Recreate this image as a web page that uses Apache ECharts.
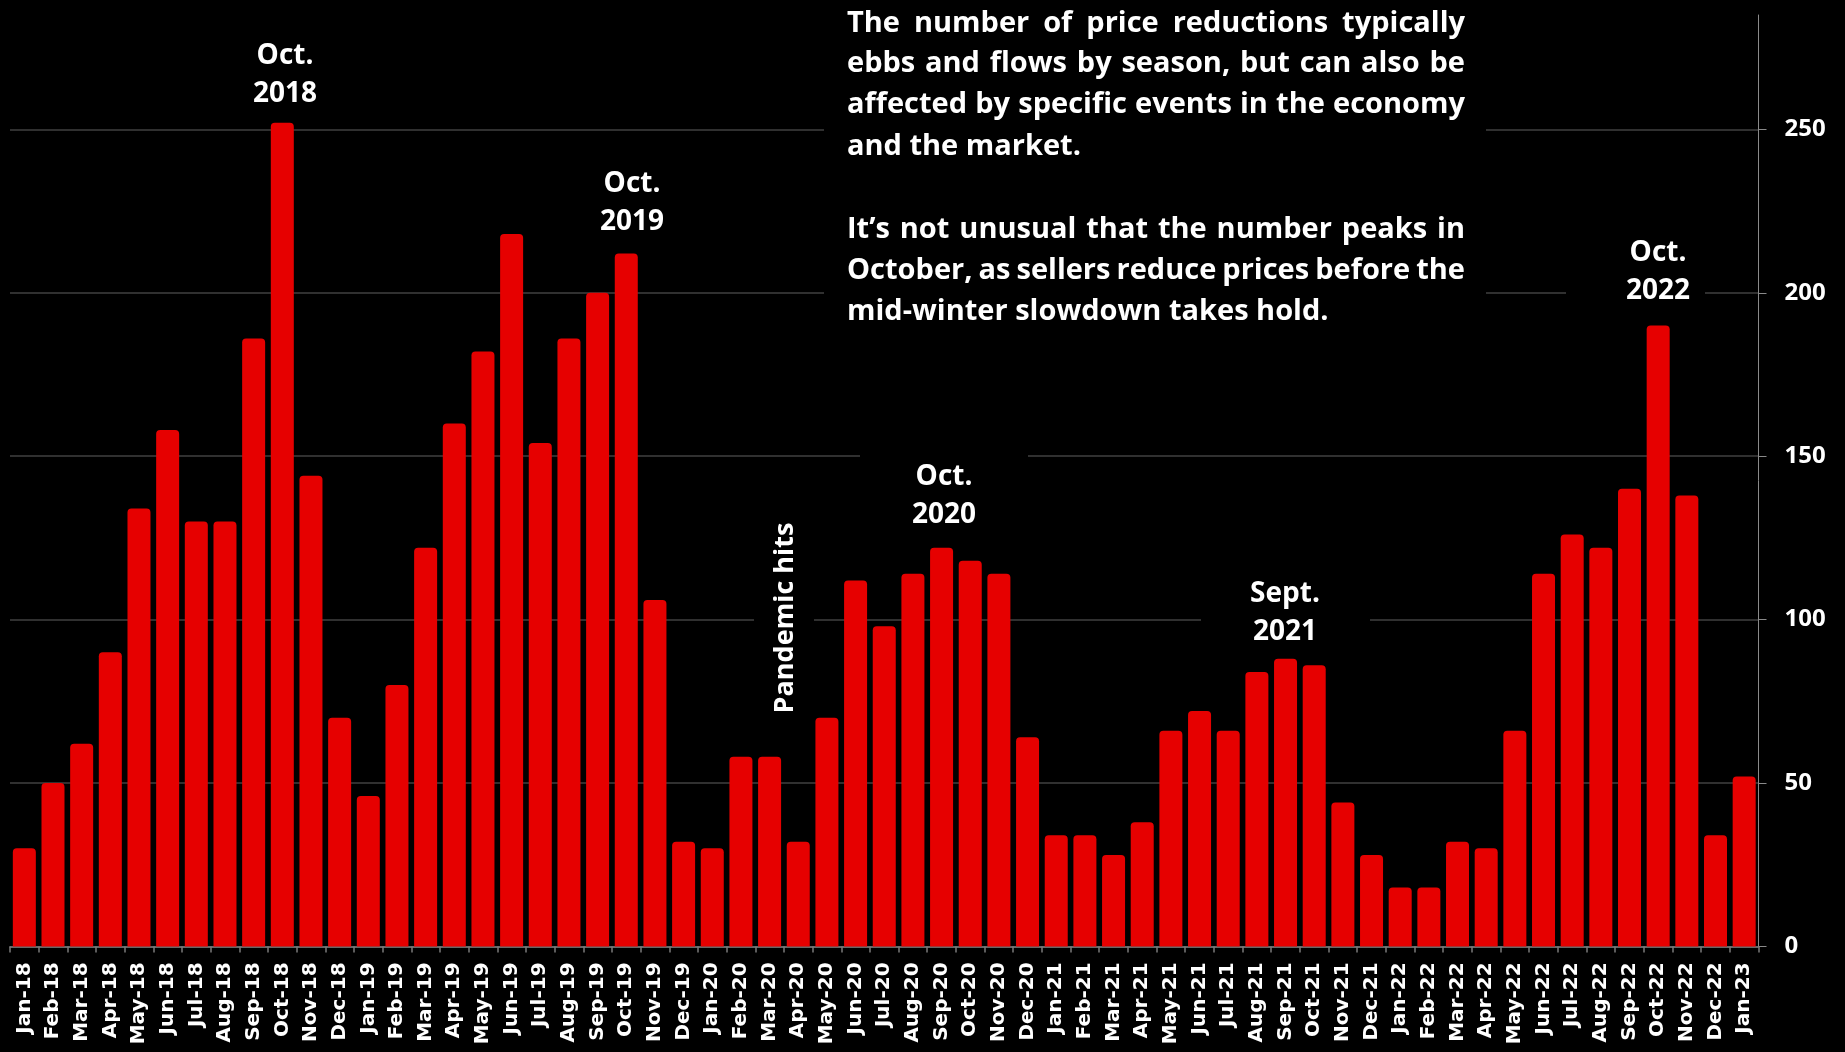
<!DOCTYPE html>
<html>
<head>
<meta charset="utf-8">
<script src="https://cdn.jsdelivr.net/npm/echarts@6/dist/echarts.min.js"></script>
<style>
html,body{margin:0;padding:0;background:#000;}
#c{width:1845px;height:1052px;}
</style>
</head>
<body>
<div id="c"></div>
<script>
// ---------- DATA ----------
const months = [
  'Jan-18','Feb-18','Mar-18','Apr-18','May-18','Jun-18','Jul-18','Aug-18','Sep-18','Oct-18','Nov-18','Dec-18',
  'Jan-19','Feb-19','Mar-19','Apr-19','May-19','Jun-19','Jul-19','Aug-19','Sep-19','Oct-19','Nov-19','Dec-19',
  'Jan-20','Feb-20','Mar-20','Apr-20','May-20','Jun-20','Jul-20','Aug-20','Sep-20','Oct-20','Nov-20','Dec-20',
  'Jan-21','Feb-21','Mar-21','Apr-21','May-21','Jun-21','Jul-21','Aug-21','Sep-21','Oct-21','Nov-21','Dec-21',
  'Jan-22','Feb-22','Mar-22','Apr-22','May-22','Jun-22','Jul-22','Aug-22','Sep-22','Oct-22','Nov-22','Dec-22',
  'Jan-23'
];
const priceReductions = [
  30, 50, 62, 90, 134, 158, 130, 130, 186, 252, 144, 70,
  46, 80, 122, 160, 182, 218, 154, 186, 200, 212, 106, 32,
  30, 58, 58, 32, 70, 112, 98, 114, 122, 118, 114, 64,
  34, 34, 28, 38, 66, 72, 66, 84, 88, 86, 44, 28,
  18, 18, 32, 30, 66, 114, 126, 122, 140, 190, 138, 34,
  52
];
const yTickValues = [0, 50, 100, 150, 200, 250];

const noteParagraph1 = [
  'The number of price reductions typically',
  'ebbs and flows by season, but can also be',
  'affected by specific events in the economy',
  'and the market.'
];
const noteParagraph2 = [
  'It\u2019s not unusual that the number peaks in',
  'October, as sellers reduce prices before the',
  'mid-winter slowdown takes hold.'
];
const peakLabels = ['Oct.\n2018', 'Oct.\n2019', 'Oct.\n2020', 'Sept.\n2021', 'Oct.\n2022'];
const pandemicLabel = 'Pandemic hits';

// ---------- LAYOUT / STYLE ----------
const FONT = '"Open Sans", "Noto Sans", sans-serif';
const NOTE_SIZE = 29;
const NOTE_X0 = 847, NOTE_X1 = 1465;
const noteY1 = [24, 64, 105, 147];
const noteY2 = [230, 271, 312];

const peakPos = [[285, 75], [632, 203], [944, 496], [1285, 613], [1658, 272]];
const masks = [
  [824, 0, 662, 340],     // paragraph
  [860, 440, 168, 100],   // Oct 2020
  [1201, 570, 169, 80],   // Sept 2021
  [1566, 232, 139, 72],   // Oct 2022
  [754, 515, 60, 205]     // Pandemic
];

const measureCtx = document.createElement('canvas').getContext('2d');
function noteLine(text, y, justify) {
  const base = {fill: '#fff', fontFamily: FONT, fontWeight: 'bold', fontSize: NOTE_SIZE,
                verticalAlign: 'middle', textVerticalAlign: 'middle', align: 'left', textAlign: 'left'};
  if (!justify) {
    return [{type: 'text', x: NOTE_X0, y: y, z: 100, style: Object.assign({text: text}, base)}];
  }
  measureCtx.font = 'bold ' + NOTE_SIZE + 'px ' + FONT;
  const words = text.split(' ');
  const widths = words.map(w => measureCtx.measureText(w).width);
  const total = widths.reduce((a, b) => a + b, 0);
  const gap = (NOTE_X1 - NOTE_X0 - total) / (words.length - 1);
  const out = [];
  let x = NOTE_X0;
  words.forEach((w, i) => {
    out.push({type: 'text', x: x, y: y, z: 100, style: Object.assign({text: w}, base)});
    x += widths[i] + gap;
  });
  return out;
}

const graphics = [];
masks.forEach(m => graphics.push({type: 'rect', z: 90, shape: {x: m[0], y: m[1], width: m[2], height: m[3]}, style: {fill: '#000'}}));
noteParagraph1.forEach((t, i) => graphics.push(...noteLine(t, noteY1[i], i < noteParagraph1.length - 1)));
noteParagraph2.forEach((t, i) => graphics.push(...noteLine(t, noteY2[i], i < noteParagraph2.length - 1)));
peakLabels.forEach((t, i) => graphics.push({
  type: 'text', x: peakPos[i][0], y: peakPos[i][1], z: 100,
  style: {text: t, fill: '#fff', fontFamily: FONT, fontWeight: 'bold', fontSize: 28, lineHeight: 38,
          align: 'center', textAlign: 'center', verticalAlign: 'middle', textVerticalAlign: 'middle'}
}));
graphics.push({
  type: 'text', x: 785, y: 618, rotation: Math.PI / 2, z: 100,
  style: {text: pandemicLabel, fill: '#fff', fontFamily: FONT, fontWeight: 'bold', fontSize: 27,
          align: 'center', textAlign: 'center', verticalAlign: 'middle', textVerticalAlign: 'middle'}
});

const chart = echarts.init(document.getElementById('c'), null, {renderer: 'canvas'});
chart.setOption({
  backgroundColor: '#000',
  animation: false,
  grid: {left: 10, right: 86.5, top: 15, bottom: 105.6, containLabel: false, outerBoundsMode: 'none'},
  xAxis: {
    type: 'category',
    data: months,
    boundaryGap: true,
    axisLine: {show: true, lineStyle: {color: '#7a7a7a', width: 1.5}},
    axisTick: {show: true, alignWithLabel: false, length: 6, interval: 0, lineStyle: {color: '#7a7a7a', width: 1.5}},
    axisLabel: {interval: 0, rotate: 90, margin: 16, color: '#fff', fontFamily: 'DejaVu Sans', fontWeight: 'bold', fontSize: 20},
    splitLine: {show: false}
  },
  yAxis: {
    type: 'value',
    position: 'right',
    min: 0, max: 285, interval: 50,
    axisLine: {show: true, lineStyle: {color: '#8a8a8a', width: 1}},
    axisTick: {show: true, length: 8, customValues: yTickValues, lineStyle: {color: '#8a8a8a', width: 1}},
    axisLabel: {margin: 26, customValues: yTickValues, color: '#fff', fontFamily: FONT, fontWeight: 'bold', fontSize: 24},
    splitLine: {show: true, lineStyle: {color: '#404040', width: 1.5}}
  },
  series: [{
    type: 'bar',
    data: priceReductions,
    barWidth: 23,
    itemStyle: {color: '#e60000', borderRadius: [4, 4, 0, 0]}
  }],
  graphic: {elements: graphics}
});
</script>
</body>
</html>
